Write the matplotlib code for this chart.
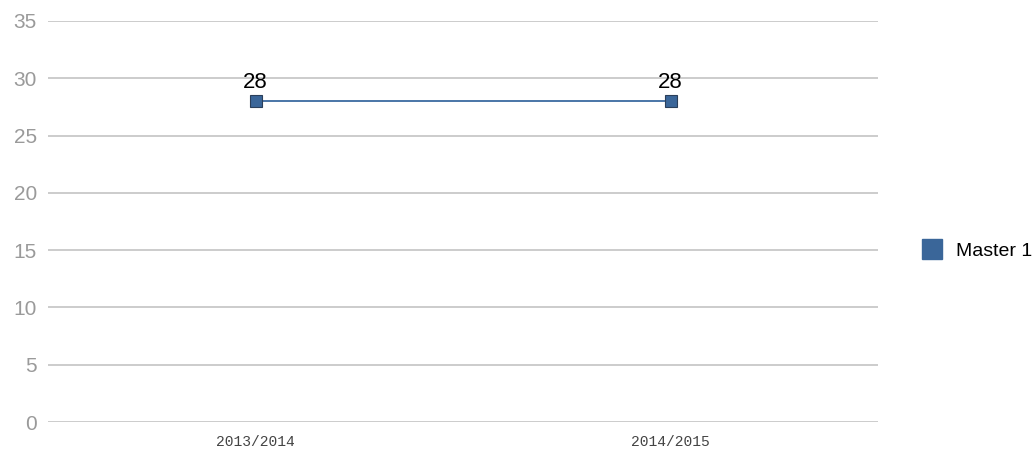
import matplotlib.pyplot as plt
from matplotlib.lines import Line2D

categories = ['2013/2014', '2014/2015']
master1 = [28, 28]
yticks = [0, 5, 10, 15, 20, 25, 30, 35]

plt.rcParams['font.family'] = ['Liberation Sans', 'DejaVu Sans']

fig = plt.figure(figsize=(10.35, 4.54), dpi=100)
ax = fig.add_axes([48 / 1035, 32 / 454, 830 / 1035, 401 / 454])

x = list(range(len(categories)))
ax.plot(x, master1, color='#3b6aa0', lw=1.3, marker='s', markersize=8.5,
        markerfacecolor='#3a6699', markeredgecolor='#2a3f5a', markeredgewidth=0.8,
        zorder=3)
for xi, v in zip(x, master1):
    ax.annotate(str(v), (xi, v), xytext=(0, 6), textcoords='offset points',
                ha='center', va='bottom', fontsize=16, color='black')

ax.set_xlim(-0.5, 1.5)
ax.set_ylim(0, 35)
ax.set_yticks(yticks)
ax.set_xticks(x)
ax.set_xticklabels(categories, family='Liberation Mono', fontsize=10.5, color='#444444')
ax.tick_params(axis='y', labelsize=15, labelcolor='#9a9a9a', length=0, pad=8)
ax.tick_params(axis='x', length=0, pad=9)
ax.grid(axis='y', color='#c4c4c4', lw=1.2)
ax.set_axisbelow(True)
for s in ax.spines.values():
    s.set_visible(False)

handle = Line2D([], [], ls='none', marker='s', markersize=14,
                markerfacecolor='#3a6699', markeredgecolor='#3a6699')
fig.legend([handle], ['Master 1'], loc='center left', bbox_to_anchor=(911 / 1035, 1 - 251 / 454),
           frameon=False, fontsize=14, handlelength=1.2, handletextpad=0.6, borderpad=0)

fig.savefig('out.png', dpi=100)
